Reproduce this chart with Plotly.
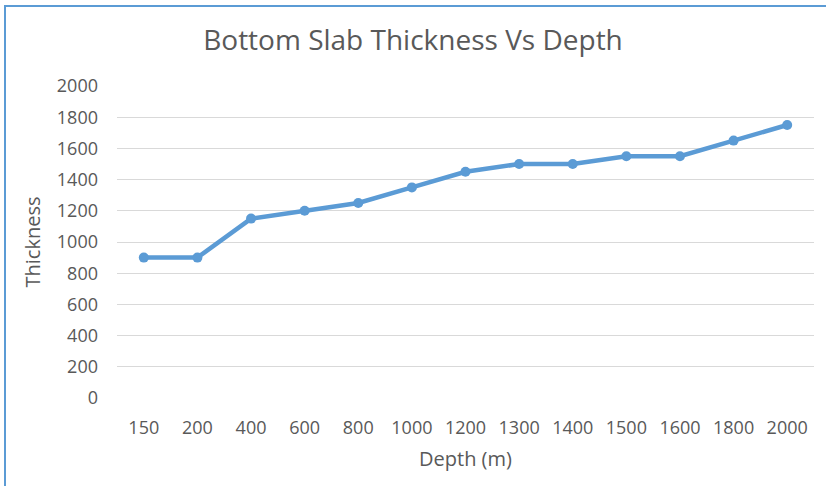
import plotly.graph_objects as go

depth_labels = ["150", "200", "400", "600", "800", "1000", "1200", "1300", "1400", "1500", "1600", "1800", "2000"]
thickness = [900, 900, 1150, 1200, 1250, 1350, 1450, 1500, 1500, 1550, 1550, 1650, 1750]
y_ticks = [0, 200, 400, 600, 800, 1000, 1200, 1400, 1600, 1800, 2000]

W, H = 826, 486
L, R, T, B = 117, 12, 86, 88
pw, ph = W - L - R, H - T - B

def px_x(p):
    return (p - L) / pw

def px_y(p):
    return (H - B - p) / ph

font_family = "Open Sans, Liberation Sans, sans-serif"
grey = "#595959"

fig = go.Figure()
fig.add_trace(go.Scatter(
    x=depth_labels, y=thickness, mode="lines+markers",
    line=dict(color="#5B9BD5", width=4.5),
    marker=dict(color="#5B9BD5", size=10),
    showlegend=False,
))

fig.update_layout(
    width=W, height=H,
    margin=dict(l=L, r=R, t=T, b=B),
    paper_bgcolor="white", plot_bgcolor="white",
    title=dict(text="Bottom Slab Thickness Vs Depth", x=0.5, xanchor="center",
               y=1 - 40 / H, yanchor="middle",
               font=dict(family=font_family, size=28, color=grey)),
    font=dict(family=font_family, color=grey, size=18),
    xaxis=dict(type="category", range=[-0.5, len(depth_labels) - 0.5],
               showgrid=False, showline=False, zeroline=False,
               ticks="", ticklabelstandoff=17,
               tickfont=dict(size=18, color=grey),
               title=dict(text="Depth (m)", standoff=13, font=dict(size=20, color=grey))),
    yaxis=dict(range=[0, 2000], tickvals=y_ticks, showgrid=True, gridcolor="#D9D9D9",
               gridwidth=1, zeroline=False, showline=False, ticks="",
               ticklabelstandoff=18,
               tickfont=dict(size=18, color=grey),
               title=dict(text="Thickness", standoff=10, font=dict(size=20, color=grey))),
    shapes=[
        dict(type="line", xref="paper", yref="paper", x0=px_x(5), x1=px_x(5),
             y0=px_y(6), y1=px_y(H + 5), line=dict(color="#5B9BD5", width=2)),
        dict(type="line", xref="paper", yref="paper", x0=px_x(4), x1=px_x(W + 5),
             y0=px_y(6), y1=px_y(6), line=dict(color="#5B9BD5", width=2)),
    ],
)

fig.write_html("out.html")
